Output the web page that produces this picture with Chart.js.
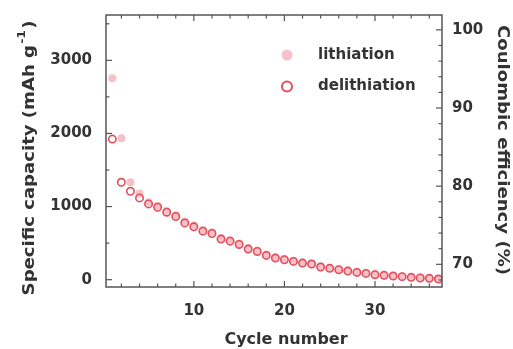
<!DOCTYPE html>
<html><head><meta charset="utf-8">
<script src="https://cdn.jsdelivr.net/npm/chart.js@4/dist/chart.umd.min.js"></script>
<style>html,body{margin:0;padding:0;background:#fff}#wrap{width:513px;height:349px}</style>
</head><body><div id="wrap"><canvas id="c" width="513" height="349"></canvas></div>
<script>
const cycles = [1,2,3,4,5,6,7,8,9,10,11,12,13,14,15,16,17,18,19,20,21,22,23,24,25,26,27,28,29,30,31,32,33,34,35,36,37];
const delithiation = [1923,1332,1209,1118,1036,991,923,864,777,723,664,632,555,527,482,418,386,332,295,273,250,227,214,173,155,136,118,100,86,68,59,50,41,32,23,18,9];
const lithiation = [2755,1936,1331,1180,1060,1010,940,880,795,740,680,648,570,542,496,432,398,344,306,283,260,236,222,181,163,143,125,106,92,74,64,55,46,37,28,23,14];
const capacityTicks = [0,1000,2000,3000];
const capacityMinor = [500,1500,2500,3500];
const cycleTicks = [10,20,30];
const cycleMinor = [2,4,6,8,12,14,16,18,22,24,26,28,32,34,36];
const efficiencyTicks = [70,80,90,100];
const efficiencyMinor = [68,72,74,76,78,82,84,86,88,92,94,96,98];
const seriesNames = ['lithiation','delithiation'];
const xTitle = 'Cycle number';
const yTitle = 'Specific capacity (mAh g';
const yTitleSup = '-1';
const y1Title = 'Coulombic efficiency (%)';

const FONT = '"DejaVu Sans", sans-serif';
const TXT = '#333';
const AXIS = '#555';
const LITH = '#f7c1c9';
const DELITH = '#e0505c';

const decor = {
  id: 'decor',
  afterDraw(chart) {
    const ctx = chart.ctx, a = chart.chartArea;
    const xs = chart.scales.x, ys = chart.scales.y, y1 = chart.scales.y1;
    ctx.save();
    ctx.strokeStyle = AXIS; ctx.lineWidth = 1.5;
    ctx.strokeRect(a.left, a.top, a.right - a.left, a.bottom - a.top);
    ctx.lineWidth = 1.2;
    const hline = (x0, x1, y) => { ctx.beginPath(); ctx.moveTo(x0, y); ctx.lineTo(x1, y); ctx.stroke(); };
    const vline = (x, y0, y1v) => { ctx.beginPath(); ctx.moveTo(x, y0); ctx.lineTo(x, y1v); ctx.stroke(); };
    capacityTicks.forEach(v => { const y = ys.getPixelForValue(v); hline(a.left, a.left + 6, y); });
    capacityMinor.forEach(v => { const y = ys.getPixelForValue(v); hline(a.left, a.left + 3.5, y); });
    efficiencyTicks.forEach(v => { const y = y1.getPixelForValue(v); hline(a.right, a.right - 6, y); });
    efficiencyMinor.forEach(v => { const y = y1.getPixelForValue(v); hline(a.right, a.right - 3.5, y); });
    cycleTicks.forEach(v => { const x = xs.getPixelForValue(v); vline(x, a.bottom, a.bottom - 6); vline(x, a.top, a.top + 6); });
    cycleMinor.forEach(v => { const x = xs.getPixelForValue(v); vline(x, a.bottom, a.bottom - 3.5); vline(x, a.top, a.top + 3.5); });

    ctx.fillStyle = TXT;
    ctx.textBaseline = 'middle';
    ctx.font = 'bold 16px ' + FONT;
    ctx.textAlign = 'center';
    ctx.fillText(xTitle, 286, 340);

    ctx.save();
    ctx.translate(30, 158);
    ctx.rotate(-Math.PI / 2);
    ctx.scale(1.13, 1);
    ctx.font = 'bold 16px ' + FONT;
    const w1 = ctx.measureText(yTitle).width;
    ctx.font = 'bold 11px ' + FONT;
    const w2 = ctx.measureText(yTitleSup).width;
    ctx.font = 'bold 16px ' + FONT;
    const w3 = ctx.measureText(')').width;
    const x0 = -(w1 + w2 + 2 + w3) / 2;
    ctx.textAlign = 'left';
    ctx.fillText(yTitle, x0, 0);
    ctx.font = 'bold 11px ' + FONT;
    ctx.fillText(yTitleSup, x0 + w1 + 1, -8);
    ctx.font = 'bold 16px ' + FONT;
    ctx.fillText(')', x0 + w1 + w2 + 2, 0);
    ctx.restore();

    ctx.save();
    ctx.translate(502, 150);
    ctx.rotate(Math.PI / 2);
    ctx.scale(1.13, 1);
    ctx.textAlign = 'center';
    ctx.font = 'bold 16px ' + FONT;
    ctx.fillText(y1Title, 0, 0);
    ctx.restore();

    ctx.font = 'bold 15px ' + FONT;
    ctx.textAlign = 'left';
    ctx.fillStyle = LITH;
    ctx.beginPath(); ctx.arc(287, 55, 5.5, 0, Math.PI * 2); ctx.fill();
    ctx.strokeStyle = DELITH; ctx.lineWidth = 2;
    ctx.beginPath(); ctx.arc(287, 86.5, 5, 0, Math.PI * 2); ctx.stroke();
    ctx.fillStyle = TXT;
    ctx.fillText(seriesNames[0], 318, 55);
    ctx.fillText(seriesNames[1], 318, 86.5);
    ctx.restore();
  }
};

const tickFont = { family: FONT, size: 15, weight: 'bold' };
const plain = v => String(v);

new Chart(document.getElementById('c'), {
  type: 'scatter',
  data: {
    datasets: [
      { label: seriesNames[1], data: cycles.map((c, i) => ({ x: c, y: delithiation[i] })),
        pointRadius: 3.7, pointBorderWidth: 1.6, borderColor: DELITH, backgroundColor: 'rgba(255,255,255,0)', yAxisID: 'y' },
      { label: seriesNames[0], data: cycles.map((c, i) => ({ x: c, y: lithiation[i] })),
        pointRadius: 4, pointBorderWidth: 0, borderColor: LITH, backgroundColor: LITH, yAxisID: 'y' }
    ]
  },
  options: {
    responsive: false,
    animation: false,
    layout: { padding: { top: 14, left: 0, right: 0, bottom: 0 } },
    plugins: { legend: { display: false }, tooltip: { enabled: false } },
    scales: {
      x: {
        type: 'linear', min: 0.3, max: 37.4,
        grid: { display: false }, border: { display: false },
        ticks: { font: tickFont, color: TXT, padding: 7, maxRotation: 0, callback: plain },
        afterBuildTicks: s => { s.ticks = cycleTicks.map(v => ({ value: v })); },
        afterFit: s => { s.height = 62; }
      },
      y: {
        type: 'linear', position: 'left', min: -100, max: 3620,
        grid: { display: false }, border: { display: false },
        ticks: { font: tickFont, color: TXT, padding: 6, callback: plain },
        afterBuildTicks: s => { s.ticks = capacityTicks.map(v => ({ value: v })); },
        afterFit: s => { s.width = 106; }
      },
      y1: {
        type: 'linear', position: 'right', min: 67.1, max: 101.9,
        grid: { display: false }, border: { display: false },
        ticks: { font: tickFont, color: TXT, padding: 2, callback: plain },
        afterBuildTicks: s => { s.ticks = efficiencyTicks.map(v => ({ value: v })); },
        afterFit: s => { s.width = 71; }
      }
    }
  },
  plugins: [decor]
});
</script>
</body></html>
